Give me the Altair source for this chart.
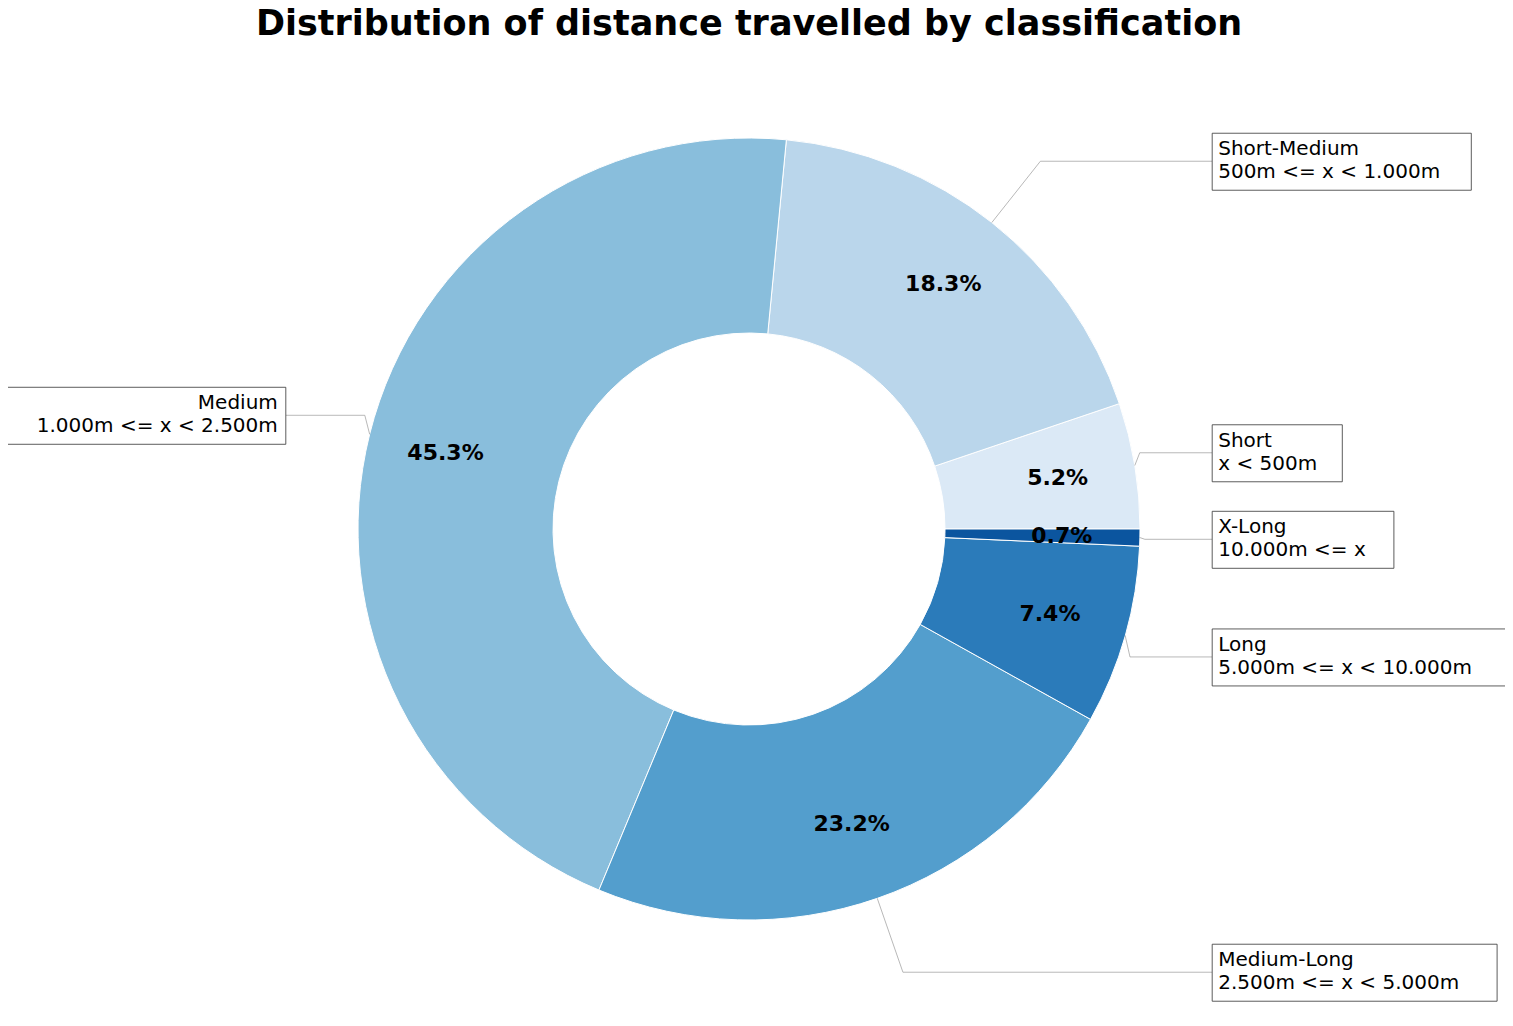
import math
import altair as alt
import pandas as pd

# classification order, counter-clockwise from 3 o'clock (matplotlib style)
names = ["Short", "Short-Medium", "Medium", "Medium-Long", "Long", "X-Long"]
ranges = ["x < 500m", "500m <= x < 1.000m", "1.000m <= x < 2.500m",
          "2.500m <= x < 5.000m", "5.000m <= x < 10.000m", "10.000m <= x"]
shares = [5.2, 18.3, 45.3, 23.2, 7.4, 0.7]
colors = ["#dbe9f6", "#bad6eb", "#89bedc", "#539ecd", "#2b7bba", "#0b559f"]

W, H = 1497, 1010
CX, CY = 741, 521
R_OUT, R_IN = 391, 196

rows = []
start = 0.0
total = sum(shares)
for n, rg, s, c in zip(names, ranges, shares, colors):
    a0 = start / total * 2 * math.pi
    a1 = (start + s) / total * 2 * math.pi
    am = (a0 + a1) / 2
    start += s
    cos_m, sin_m = math.cos(am), math.sin(am)
    side = 1 if cos_m >= 0 else -1
    ty = CY - 1.2 * R_OUT * sin_m
    tx = CX + side * 1.2 * R_OUT
    # elbow: radial extension up to the label height
    rc = 1.2 * R_OUT if abs(sin_m) > 0.3 else R_OUT + 5
    ex = CX + rc * cos_m
    label = f"{n}\n\u00a0{rg}"
    bw = max(len(n), len(rg) + 1) * 12.9 + 14
    rows.append(dict(
        name=n, color=c, pct=f"{s:.1f}%",
        theta=math.pi / 2 - a1, theta2=math.pi / 2 - a0,
        px=CX + 0.8 * R_OUT * cos_m, py=CY - 0.8 * R_OUT * sin_m,
        wx=CX + R_OUT * cos_m, wy=CY - R_OUT * sin_m,
        ex=ex, ey=ty, tx=tx, ty=ty,
        bx=tx - 6 if side > 0 else tx - bw + 6,
        bx2=tx - 6 + bw if side > 0 else tx + 6,
        by=ty - 28, by2=ty + 29,
        lx=tx if side > 0 else tx - 2, label=label,
        align="left" if side > 0 else "right",
    ))
df = pd.DataFrame(rows)

seg = []
for r in rows:
    seg += [dict(name=r["name"], k=0, x=r["wx"], y=r["wy"]),
            dict(name=r["name"], k=1, x=r["ex"], y=r["ey"]),
            dict(name=r["name"], k=2, x=r["bx"] if r["align"] == "left" else r["bx2"], y=r["ey"])]
seg_df = pd.DataFrame(seg)

base = alt.Chart(df)

arcs = base.mark_arc(stroke="white", strokeWidth=1).encode(
    theta=alt.Theta("theta:Q", scale=None),
    theta2="theta2:Q",
    radius=alt.value(R_OUT), radius2=alt.value(R_IN),
    x=alt.value(CX), y=alt.value(CY),
    color=alt.Color("color:N", scale=None),
)

pct = base.mark_text(fontSize=22, fontWeight="bold", font="DejaVu Sans", color="black").encode(
    x=alt.X("px:Q", scale=None), y=alt.Y("py:Q", scale=None), text="pct:N")

lines = alt.Chart(seg_df).mark_line(color="#999999", strokeWidth=0.7).encode(
    x=alt.X("x:Q", scale=None), y=alt.Y("y:Q", scale=None),
    detail="name:N", order="k:Q")

boxes = base.mark_rect(fill="white", stroke="#333333", strokeWidth=0.8).encode(
    x=alt.X("bx:Q", scale=None), x2="bx2:Q",
    y=alt.Y("by:Q", scale=None), y2="by2:Q")

left_lab = base.transform_filter("datum.align == 'left'").mark_text(
    align="left", baseline="top", fontSize=20, font="DejaVu Sans", lineBreak="\n", lineHeight=23
).encode(x=alt.X("lx:Q", scale=None),
         y=alt.Y("ty:Q", scale=None), yOffset=alt.value(-22), text="label:N")
right_lab = base.transform_filter("datum.align == 'right'").mark_text(
    align="right", baseline="top", fontSize=20, font="DejaVu Sans", lineBreak="\n", lineHeight=23
).encode(x=alt.X("lx:Q", scale=None),
         y=alt.Y("ty:Q", scale=None), yOffset=alt.value(-22), text="label:N")

title = alt.Chart(pd.DataFrame({"t": ["Distribution of distance travelled by classification"]})).mark_text(
    fontSize=35, fontWeight="bold", font="DejaVu Sans", baseline="middle"
).encode(x=alt.value(CX), y=alt.value(16), text="t:N")

chart = alt.layer(arcs, pct, lines, boxes, left_lab, right_lab, title).properties(
    width=W, height=H, padding=0, autosize="none"
).configure_view(stroke=None)

chart.save("out.html", embed_options={"renderer": "svg", "actions": False})
